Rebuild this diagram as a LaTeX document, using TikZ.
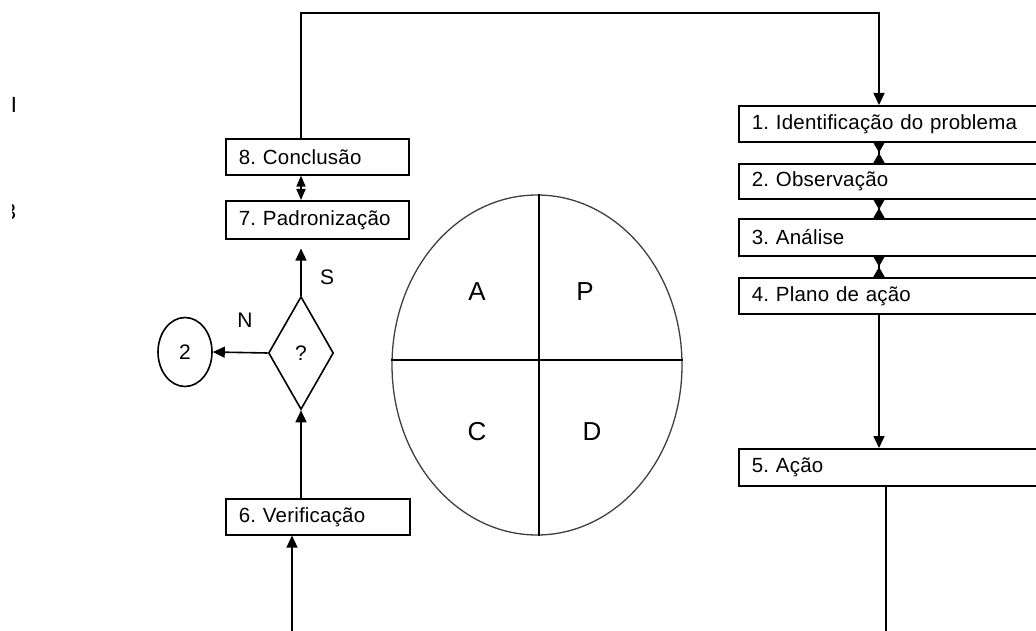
\documentclass[tikz,border=0pt]{standalone}
\usepackage{fontspec}
\setmainfont{Liberation Sans}
\newfontfamily\stepfam[LetterSpace=1]{Liberation Sans}
\usetikzlibrary{arrows.meta,shapes.geometric,calc}
\frenchspacing
\hyphenpenalty=10000
\exhyphenpenalty=10000

\newcommand{\stepfont}{\fontsize{20.5}{24}\stepfam}
\newcommand{\markfont}{\fontsize{21}{24}\selectfont}
\newcommand{\quadfont}{\fontsize{26}{30}\selectfont}

\begin{document}
\begin{tikzpicture}[x=1pt,y=-1pt,line width=1.6pt,
  stepbox/.style={draw,rectangle,anchor=north west,inner xsep=13pt,inner ysep=0pt,
    align=left,font=\stepfont},
  arr/.style={-{Triangle[length=12pt,width=11pt]}},
  dbl/.style={{Triangle[length=11pt,width=9pt]}-{Triangle[length=11pt,width=9pt]}},
  hg/.style={{Triangle[reversed,length=10pt,width=11pt]}-{Triangle[reversed,length=10pt,width=11pt]}},
  lbl/.style={font=\markfont,inner sep=0pt}]

\useasboundingbox (0,0) rectangle (1036,631);
\fill[white] (0,0) rectangle (1036,631);
\clip (0,0) rectangle (1036,631);

% left column of steps
\node[stepbox,minimum width=183pt,minimum height=36pt,text width=157pt] (c8) at (225,138) {8. Conclusão};
\node[stepbox,minimum width=183pt,minimum height=38pt,text width=157pt] (c7) at (225,200) {7. Padronização};
\node[stepbox,minimum width=184pt,minimum height=36pt,text width=158pt] (c6) at (225,498) {6. Verificação};

% decision and return to step 2
\node[draw,diamond,inner sep=0pt,minimum width=65pt,minimum height=113pt,font=\markfont] (dia) at (301,353) {?};
\node[draw,ellipse,inner sep=0pt,minimum width=54pt,minimum height=69pt,font=\markfont] (two) at (185,352) {2};
\node[lbl] (s) at (327,277) {S};
\node[lbl] (n) at (245,320) {N};

% right column of steps
\node[stepbox,minimum width=312pt,minimum height=36pt,text width=286pt] (p1) at (738,105) {1. Identificação do problema};
\node[stepbox,minimum width=312pt,minimum height=35pt,text width=286pt] (p2) at (738,163) {2. Observação};
\node[stepbox,minimum width=312pt,minimum height=37pt,text width=286pt] (p3) at (738,218) {3. Análise};
\node[stepbox,minimum width=312pt,minimum height=36pt,text width=286pt] (p4) at (738,277) {4. Plano de ação};
\node[stepbox,minimum width=312pt,minimum height=37pt,text width=286pt] (p5) at (738,448) {5. Ação};

% PDCA cycle
\node[draw=black!75,ellipse,inner sep=0pt,minimum width=290pt,minimum height=340pt,line width=1.3pt] (pdca) at (537,365) {};
\draw[line width=1.3pt] ([xshift=2pt]pdca.north) -- ([xshift=2pt]pdca.south);
\draw[line width=1.3pt] ([yshift=5pt]pdca.west) -- ([yshift=5pt]pdca.east);
\node[font=\quadfont,inner sep=0pt] (qa) at (477,292) {A};
\node[font=\quadfont,inner sep=0pt] (qp) at (585,292) {P};
\node[font=\quadfont,inner sep=0pt] (qc) at (477,432) {C};
\node[font=\quadfont,inner sep=0pt] (qd) at (592,432) {D};

% free ends and routing points
\coordinate (rcol) at (879,13);
\coordinate (r5) at (886,631);
\coordinate (b6) at (292,631);

% connectors
\draw[arr] (dia.north |- c8.north) |- (rcol) -- (rcol |- p1.north);
\draw[hg] (rcol |- p1.south) -- (rcol |- p2.north);
\draw[hg] (rcol |- p2.south) -- (rcol |- p3.north);
\draw[hg] (rcol |- p3.south) -- (rcol |- p4.north);
\draw[arr] (rcol |- p4.south) -- (rcol |- p5.north);
\draw (r5 |- p5.south) -- (r5);
\draw[arr] (b6) -- (b6 |- c6.south);
\draw[arr] (dia.south |- c6.north) -- (dia.south);
\draw[arr] (dia.west) -- (two.east);
\draw[arr,shorten >=9pt] (dia.north) -- (dia.north |- c7.south);
\draw[dbl] (dia.north |- c8.south) -- (dia.north |- c7.north);

% text fragments at the left margin
\node[font=\fontsize{22}{24}\selectfont,inner sep=0pt] (fi) at (14,105) {I};
\begin{scope}
  \clip (12.5,195) rectangle (30,230);
  \node[font=\fontsize{22}{24}\selectfont,inner sep=0pt,anchor=east] (f3) at (17,212) {3};
\end{scope}
\end{tikzpicture}
\end{document}
